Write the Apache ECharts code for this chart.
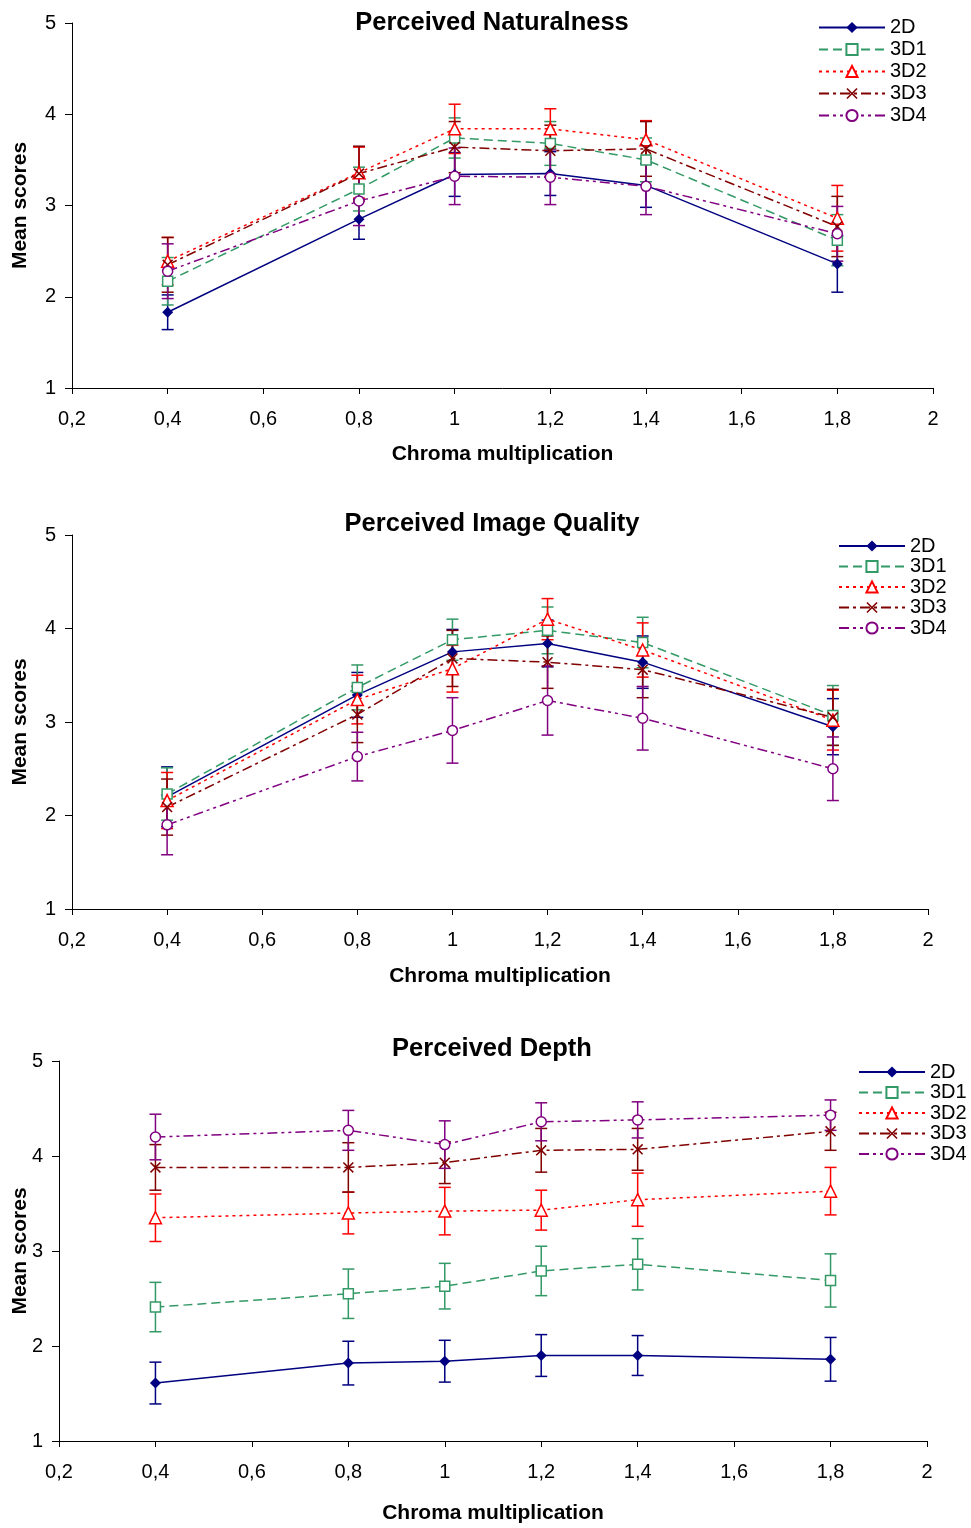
<!DOCTYPE html>
<html>
<head>
<meta charset="utf-8">
<script src="https://cdn.jsdelivr.net/npm/echarts@6/dist/echarts.min.js"></script>
<style>
  html, body { margin: 0; padding: 0; background: #fff; }
  #main { width: 971px; height: 1528px; }
</style>
</head>
<body>
<div id="main"></div>
<script>
var chromaX = [0.4, 0.8, 1.0, 1.2, 1.4, 1.8];
var xTicks = [0.2, 0.4, 0.6, 0.8, 1, 1.2, 1.4, 1.6, 1.8, 2];
var xTickLabels = ['0,2', '0,4', '0,6', '0,8', '1', '1,2', '1,4', '1,6', '1,8', '2'];
var seriesNames = ['2D', '3D1', '3D2', '3D3', '3D4'];
var chartTitles = ['Perceived Naturalness', 'Perceived Image Quality', 'Perceived Depth'];

// Perceived Naturalness: means and error half-widths
var natMean = [
  [1.83, 2.85, 3.34, 3.35, 3.22, 2.36],
  [2.17, 3.18, 3.74, 3.68, 3.50, 2.62],
  [2.39, 3.36, 3.84, 3.84, 3.72, 2.86],
  [2.35, 3.35, 3.64, 3.60, 3.62, 2.77],
  [2.28, 3.05, 3.32, 3.31, 3.21, 2.69]
];
var natErr = [
  [0.19, 0.22, 0.24, 0.24, 0.24, 0.31],
  [0.26, 0.24, 0.22, 0.24, 0.24, 0.28],
  [0.26, 0.28, 0.27, 0.22, 0.21, 0.36],
  [0.30, 0.30, 0.28, 0.28, 0.30, 0.33],
  [0.30, 0.27, 0.31, 0.30, 0.31, 0.30]
];

// Perceived Image Quality
var iqMean = [
  [2.20, 3.29, 3.75, 3.84, 3.64, 2.95],
  [2.23, 3.37, 3.88, 3.98, 3.85, 3.07],
  [2.16, 3.24, 3.57, 4.10, 3.77, 3.02],
  [2.09, 3.08, 3.68, 3.64, 3.56, 3.05],
  [1.90, 2.63, 2.91, 3.23, 3.04, 2.50]
];
var iqErr = [
  [0.32, 0.24, 0.24, 0.25, 0.28, 0.30],
  [0.28, 0.24, 0.22, 0.25, 0.27, 0.32],
  [0.30, 0.26, 0.25, 0.22, 0.29, 0.32],
  [0.30, 0.30, 0.30, 0.28, 0.30, 0.30],
  [0.32, 0.26, 0.35, 0.37, 0.34, 0.34]
];

// Perceived Depth
var depthMean = [
  [1.61, 1.82, 1.84, 1.90, 1.90, 1.86],
  [2.41, 2.55, 2.63, 2.79, 2.86, 2.69],
  [3.35, 3.40, 3.42, 3.43, 3.54, 3.63],
  [3.88, 3.88, 3.93, 4.06, 4.07, 4.26],
  [4.20, 4.27, 4.12, 4.36, 4.38, 4.43]
];
var depthErr = [
  [0.22, 0.23, 0.22, 0.22, 0.21, 0.23],
  [0.26, 0.26, 0.24, 0.26, 0.27, 0.28],
  [0.25, 0.22, 0.25, 0.21, 0.28, 0.25],
  [0.24, 0.26, 0.22, 0.23, 0.22, 0.20],
  [0.24, 0.21, 0.25, 0.20, 0.19, 0.16]
];

var colors = ['#000080', '#339966', '#ff0000', '#800000', '#800080'];
var dashes = ['solid', [9, 5], [3, 4], [10, 4, 3, 4], [10, 4, 3, 4, 3, 4]];
var crossPath = 'path://M0,1L1,0L5,4L9,0L10,1L6,5L10,9L9,10L5,6L1,10L0,9L4,5Z';
var symbols = ['diamond', 'rect', 'triangle', crossPath, 'circle'];
var symbolSizes = [11, 10, 12, 11, 10];
var hollow = [false, true, true, false, true];

var font = 'Liberation Sans, Arial, sans-serif';

var panels = [
  { mean: natMean, err: natErr, grid: { left: 72, right: 38, top: 23, height: 365 }, nameGapX: 56, nameGapY: 41, legend: { left: 813, top: 12.5, gap: 2 }, titleTop: 5 },
  { mean: iqMean, err: iqErr, grid: { left: 72, right: 43, top: 535, height: 374 }, nameGapX: 57, nameGapY: 41, legend: { left: 833, top: 531, gap: 0.5 }, titleTop: 506 },
  { mean: depthMean, err: depthErr, grid: { left: 59, right: 44, top: 1061, height: 380 }, nameGapX: 62, nameGapY: 28, legend: { left: 853, top: 1057, gap: 0.5 }, titleTop: 1031 }
];

function xLabel(v) {
  for (var i = 0; i < xTicks.length; i++) {
    if (Math.abs(xTicks[i] - v) < 1e-6) return xTickLabels[i];
  }
  return '';
}

var option = {
  animation: false,
  backgroundColor: '#fff',
  title: [], grid: [], xAxis: [], yAxis: [], legend: [], series: []
};

panels.forEach(function (p, gi) {
  option.title.push({
    text: chartTitles[gi], left: 487, top: p.titleTop, textAlign: 'center',
    textStyle: { fontFamily: font, fontSize: 25.5, fontWeight: 'bold', color: '#000' }
  });
  option.grid.push(Object.assign({ outerBoundsMode: 'none', containLabel: false }, p.grid));
  option.xAxis.push({
    type: 'value', gridIndex: gi, min: 0.2, max: 2, interval: 0.2,
    name: 'Chroma multiplication', nameLocation: 'middle', nameGap: p.nameGapX,
    nameMoveOverlap: false,
    nameTextStyle: { fontFamily: font, fontSize: 21, fontWeight: 'bold', color: '#000' },
    axisLine: { lineStyle: { color: '#000', width: 1 } },
    axisTick: { show: true, length: 6, lineStyle: { color: '#000' } },
    axisLabel: { fontFamily: font, fontSize: 20, color: '#000', margin: 21, formatter: xLabel },
    splitLine: { show: false }
  });
  option.yAxis.push({
    type: 'value', gridIndex: gi, min: 1, max: 5, interval: 1,
    name: 'Mean scores', nameLocation: 'middle', nameGap: p.nameGapY,
    nameMoveOverlap: false,
    nameTextStyle: { fontFamily: font, fontSize: 21, fontWeight: 'bold', color: '#000' },
    axisLine: { show: true, lineStyle: { color: '#000', width: 1 } },
    axisTick: { show: true, length: 7, lineStyle: { color: '#000' } },
    axisLabel: { fontFamily: font, fontSize: 20, color: '#000', margin: 16 },
    splitLine: { show: false }
  });
  option.legend.push({
    data: seriesNames, orient: 'vertical', left: p.legend.left, top: p.legend.top,
    itemWidth: 66, itemHeight: 14, itemGap: p.legend.gap,
    textStyle: { fontFamily: font, fontSize: 20, lineHeight: 20, color: '#000' }
  });

  seriesNames.forEach(function (name, si) {
    var c = colors[si];
    var errData = chromaX.map(function (x, k) {
      return [x, p.mean[si][k] - p.err[si][k], p.mean[si][k] + p.err[si][k]];
    });
    option.series.push({
      type: 'custom', name: 'err-' + name + '-' + gi,
      xAxisIndex: gi, yAxisIndex: gi,
      data: errData, z: 1, silent: true,
      renderItem: function (params, api) {
        var lo = api.coord([api.value(0), api.value(1)]);
        var hi = api.coord([api.value(0), api.value(2)]);
        var w = 6;
        var st = { stroke: c, lineWidth: 1.5 };
        return {
          type: 'group',
          children: [
            { type: 'line', shape: { x1: lo[0], y1: lo[1], x2: hi[0], y2: hi[1] }, style: st },
            { type: 'line', shape: { x1: lo[0] - w, y1: lo[1], x2: lo[0] + w, y2: lo[1] }, style: st },
            { type: 'line', shape: { x1: hi[0] - w, y1: hi[1], x2: hi[0] + w, y2: hi[1] }, style: st }
          ]
        };
      }
    });
  });

  seriesNames.forEach(function (name, si) {
    var c = colors[si];
    option.series.push({
      type: 'line', name: name, xAxisIndex: gi, yAxisIndex: gi, z: 3,
      data: chromaX.map(function (x, k) { return [x, p.mean[si][k]]; }),
      symbol: symbols[si], symbolSize: symbolSizes[si], showAllSymbol: true,
      lineStyle: { color: c, width: 1.5, type: dashes[si] },
      itemStyle: hollow[si]
        ? { color: '#fff', borderColor: c, borderWidth: 1.5 }
        : { color: c, borderColor: c, borderWidth: 0 }
    });
  });
});

var chart = echarts.init(document.getElementById('main'), null, { renderer: 'canvas' });
chart.setOption(option);
</script>
</body>
</html>
